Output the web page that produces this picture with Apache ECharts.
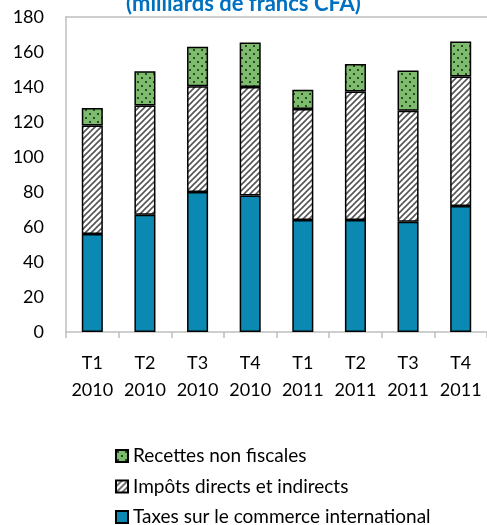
<!DOCTYPE html>
<html>
<head>
<meta charset="utf-8">
<script src="https://cdn.jsdelivr.net/npm/echarts@6/dist/echarts.min.js"></script>
<style>
  html, body { margin: 0; padding: 0; background: #fff; }
  #chart { width: 487px; height: 525px; }
</style>
</head>
<body>
<div id="chart"></div>
<script>
// données (milliards de francs CFA)
const categories = ['T1\n2010', 'T2\n2010', 'T3\n2010', 'T4\n2010', 'T1\n2011', 'T2\n2011', 'T3\n2011', 'T4\n2011'];
const taxesCommerce = [56, 67, 80, 78, 64, 64, 63, 72];
const impots = [62, 62.5, 60.5, 62, 63.5, 73.5, 63.5, 74];
const recettesNonFiscales = [10, 19.5, 22.5, 25.5, 11, 15.7, 23, 20];

const FONT = 'Lato';

// motif hachuré ////
function hatchPattern() {
  const c = document.createElement('canvas');
  c.width = 6; c.height = 6;
  const ctx = c.getContext('2d');
  ctx.fillStyle = '#ffffff';
  ctx.fillRect(0, 0, 6, 6);
  ctx.strokeStyle = '#555555';
  ctx.lineWidth = 1.6;
  ctx.beginPath();
  ctx.moveTo(-1, 7); ctx.lineTo(7, -1);
  ctx.moveTo(-4, 4); ctx.lineTo(4, -4);
  ctx.moveTo(2, 10); ctx.lineTo(10, 2);
  ctx.stroke();
  return c;
}

// motif vert à points
function dotPattern() {
  const c = document.createElement('canvas');
  c.width = 8; c.height = 8;
  const ctx = c.getContext('2d');
  ctx.fillStyle = '#7dbb6d';
  ctx.fillRect(0, 0, 8, 8);
  ctx.fillStyle = '#2d4a28';
  ctx.fillRect(1, 1, 2, 2);
  ctx.fillRect(5, 5, 2, 2);
  return c;
}

const myChart = echarts.init(document.getElementById('chart'));

const barBase = {
  type: 'bar',
  stack: 'total',
  barWidth: '40%'
};

myChart.setOption({
  animation: false,
  title: {
    text: '(milliards de francs CFA)',
    left: 'center',
    top: -12,
    textStyle: { color: '#0070c0', fontFamily: FONT, fontWeight: 'bold', fontSize: 22 }
  },
  grid: { left: 66, right: 0, top: 17, bottom: 193 },
  legend: {
    orient: 'vertical',
    left: 110,
    top: 441,
    height: 100,
    itemWidth: 12,
    itemHeight: 12,
    itemGap: 10.5,
    icon: 'rect',
    data: ['Recettes non fiscales', 'Impôts directs et indirects', 'Taxes sur le commerce international'],
    textStyle: { fontFamily: FONT, fontSize: 19, lineHeight: 20, color: '#000' }
  },
  xAxis: [
    {
      type: 'category',
      data: categories,
      axisLine: { lineStyle: { color: '#bfbfbf', width: 1.5 } },
      axisTick: { show: true, length: 6, lineStyle: { color: '#bfbfbf', width: 1.5 } },
      axisLabel: { interval: 0, fontFamily: FONT, fontSize: 18, color: '#000', lineHeight: 27, margin: 18 }
    },
    {
      type: 'category',
      position: 'top',
      data: categories,
      axisLine: { lineStyle: { color: '#bfbfbf', width: 1.5 } },
      axisTick: { show: false },
      axisLabel: { show: false }
    }
  ],
  yAxis: {
    type: 'value',
    min: 0,
    max: 180,
    interval: 20,
    axisLine: { show: true, lineStyle: { color: '#bfbfbf', width: 1.5 } },
    axisTick: { show: false },
    splitLine: { show: false },
    axisLabel: { fontFamily: FONT, fontSize: 18, color: '#000', margin: 22 }
  },
  series: [
    Object.assign({}, barBase, {
      name: 'Taxes sur le commerce international',
      data: taxesCommerce,
      itemStyle: { color: '#0c89b2', borderColor: '#000', borderWidth: 1.5 }
    }),
    Object.assign({}, barBase, {
      name: 'Impôts directs et indirects',
      data: impots,
      itemStyle: { color: { image: hatchPattern(), repeat: 'repeat' }, borderColor: '#000', borderWidth: 1.5 }
    }),
    Object.assign({}, barBase, {
      name: 'Recettes non fiscales',
      data: recettesNonFiscales,
      itemStyle: { color: { image: dotPattern(), repeat: 'repeat' }, borderColor: '#000', borderWidth: 1.5 }
    })
  ]
});
</script>
</body>
</html>
